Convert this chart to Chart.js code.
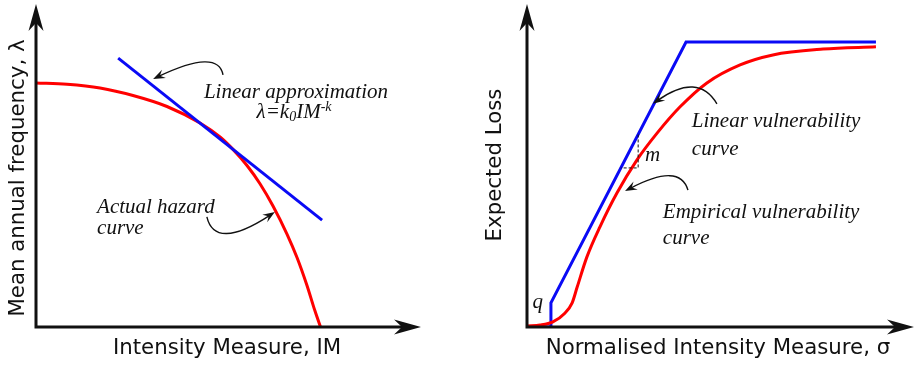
<!DOCTYPE html>
<html>
<head>
<meta charset="utf-8">
<script src="https://cdn.jsdelivr.net/npm/chart.js@4/dist/chart.umd.min.js"></script>
<style>
  html, body { margin: 0; padding: 0; background: #fff; }
  #wrap { position: relative; width: 914px; height: 365px; }
  .panel { position: absolute; top: 0; width: 457px; height: 365px; }
</style>
</head>
<body>
<div id="wrap">
  <div class="panel" style="left:0"><canvas id="hazard"></canvas></div>
  <div class="panel" style="left:457px"><canvas id="vuln"></canvas></div>
</div>
<script>
// ---- Hazard panel: intensity measure vs. mean annual frequency ----
const hazardIM     = [0, 8.07, 16.67, 25.26, 34.11, 42.71, 47.92, 51.30, 54.95, 58.33, 61.72, 65.36, 67.97, 70.57, 72.66, 74.09];
const hazardLambda = [75.78, 75.37, 74.22, 71.89, 68.48, 63.35, 59.01, 55.16, 50.16, 44.50, 37.58, 28.88, 21.58, 12.89, 4.94, 0];
const tangentIM     = [21.4, 74.5];
const tangentLambda = [83.5, 33.2];

// ---- Vulnerability panel: normalised intensity vs. expected loss ----
const empiricalSigma = [0, 3.4, 6.7, 9.8, 11.7, 13.0, 15.5, 18.9, 23.3, 28.5, 33.7, 39.6, 46.6, 55.2, 63.7, 76.7, 90.4];
const empiricalLoss  = [0.3, 0.6, 1.6, 4.3, 7.5, 12.4, 21.7, 31.1, 41.6, 51.9, 60.2, 68.3, 75.8, 81.4, 84.5, 86.3, 87.0];
const linearSigma = [0, 6.2, 6.2, 41.2, 90.4];
const linearLoss  = [0, 0, 7.5, 88.5, 88.5];

const RED = '#ff0000';
const BLUE = '#0a0af5';
const SANS = '"DejaVu Sans", Verdana, sans-serif';
const SERIF = '"Liberation Serif", "Times New Roman", serif';
const NOTE_SIZE = 21;
const TITLE_SIZE = 21.3;

const pts = (xs, ys) => xs.map((x, i) => ({ x, y: ys[i] }));

// Arrow-tipped axes, axis titles, italic notes and curved pointer arrows
function drawHead(ctx, tx, ty, ux, uy, len, half, notch) {
  const px = -uy, py = ux;
  ctx.beginPath();
  ctx.moveTo(tx, ty);
  ctx.lineTo(tx - ux * len + px * half, ty - uy * len + py * half);
  ctx.lineTo(tx - ux * notch, ty - uy * notch);
  ctx.lineTo(tx - ux * len - px * half, ty - uy * len - py * half);
  ctx.closePath();
  ctx.fill();
}

const sketchPlugin = {
  id: 'sketch',
  afterDraw(chart, args, o) {
    const { ctx, chartArea: a, scales: { x, y } } = chart;
    const X = v => x.getPixelForValue(v), Y = v => y.getPixelForValue(v);
    ctx.save();
    ctx.fillStyle = '#111';
    ctx.strokeStyle = '#111';
    // axes
    ctx.lineWidth = 3;
    ctx.beginPath();
    ctx.moveTo(a.left, a.bottom + 1.5);
    ctx.lineTo(a.left, a.top + 18);
    ctx.moveTo(a.left - 1.5, a.bottom);
    ctx.lineTo(a.right - 18, a.bottom);
    ctx.stroke();
    drawHead(ctx, a.left, a.top - 1, 0, -1, 27, 7.5, 19);
    drawHead(ctx, a.right + 1, a.bottom, 1, 0, 27, 7.5, 19);
    // axis titles
    ctx.font = TITLE_SIZE + 'px ' + SANS;
    ctx.textAlign = 'center';
    ctx.textBaseline = 'middle';
    ctx.fillText(o.xTitle, o.xTitlePos[0], o.xTitlePos[1]);
    ctx.save();
    ctx.translate(o.yTitlePos[0], o.yTitlePos[1]);
    ctx.rotate(-Math.PI / 2);
    ctx.fillText(o.yTitle, 0, 0);
    ctx.restore();
    // dashed slope marker
    if (o.slope) {
      const s = o.slope;
      ctx.lineWidth = 1;
      ctx.setLineDash([3, 2]);
      ctx.beginPath();
      ctx.moveTo(X(s.x1), Y(s.yTop));
      ctx.lineTo(X(s.x1), Y(s.yBase));
      ctx.lineTo(X(s.x0), Y(s.yBase));
      ctx.stroke();
      ctx.setLineDash([]);
    }
    // curved pointer arrows
    ctx.lineWidth = 1.4;
    for (const ar of o.arrows) {
      const [sx, sy] = [X(ar.from[0]), Y(ar.from[1])];
      const [cx, cy] = [X(ar.ctrl[0]), Y(ar.ctrl[1])];
      const [ex, ey] = [X(ar.to[0]), Y(ar.to[1])];
      let ux = ex - cx, uy = ey - cy;
      const n = Math.hypot(ux, uy); ux /= n; uy /= n;
      ctx.beginPath();
      ctx.moveTo(sx, sy);
      ctx.quadraticCurveTo(cx, cy, ex - ux * 6, ey - uy * 6);
      ctx.stroke();
      drawHead(ctx, ex, ey, ux, uy, 12, 4.5, 7.5);
    }
    // italic notes
    const noteFont = sub => 'italic ' + (sub ? 14 : NOTE_SIZE) + 'px ' + SERIF;
    for (const t of o.notes) {
      ctx.font = noteFont(false);
      ctx.textAlign = t.align || 'left';
      ctx.textBaseline = 'middle';
      if (t.parts) {
        // text with sub/superscript runs
        let w = 0;
        for (const p of t.parts) {
          ctx.font = noteFont(p.s);
          w += ctx.measureText(p.t).width;
        }
        let cx0 = X(t.at[0]) - w / 2;
        const cy0 = Y(t.at[1]);
        ctx.textAlign = 'left';
        for (const p of t.parts) {
          ctx.font = noteFont(p.s);
          ctx.fillText(p.t, cx0, cy0 + (p.s || 0));
          cx0 += ctx.measureText(p.t).width;
        }
      } else {
        ctx.fillText(t.text, X(t.at[0]), Y(t.at[1]));
      }
    }
    ctx.restore();
  }
};

function lineDataset(data, color, smooth) {
  return {
    data, borderColor: color, borderWidth: 3, pointRadius: 0, fill: false,
    cubicInterpolationMode: smooth ? 'monotone' : 'default', tension: 0,
    borderJoinStyle: 'miter', borderCapStyle: 'butt'
  };
}

function baseOptions(padding, sketch) {
  return {
    responsive: false, animation: false, events: [],
    layout: { padding },
    scales: {
      x: { type: 'linear', min: 0, max: 100, display: false },
      y: { type: 'linear', min: 0, max: 100, display: false }
    },
    plugins: { legend: { display: false }, tooltip: { enabled: false }, sketch }
  };
}

function makeCanvas(id) {
  const c = document.getElementById(id);
  c.width = 457; c.height = 365;
  c.style.width = '457px'; c.style.height = '365px';
  return c;
}

new Chart(makeCanvas('hazard'), {
  type: 'line',
  data: {
    datasets: [
      lineDataset(pts(tangentIM, tangentLambda), BLUE, false),
      lineDataset(pts(hazardIM, hazardLambda), RED, true)
    ]
  },
  options: baseOptions({ left: 36, right: 37, top: 5, bottom: 38 }, {
    xTitle: 'Intensity Measure, IM', xTitlePos: [227, 348],
    yTitle: 'Mean annual frequency, λ', yTitlePos: [18, 178],
    arrows: [
      { from: [48.7, 78.3], ctrl: [47.4, 86.6], to: [30.5, 77.0] },
      { from: [44.5, 34.2], ctrl: [46.6, 23.6], to: [62.2, 35.7] }
    ],
    notes: [
      { text: 'Linear approximation', at: [67.7, 72.7], align: 'center' },
      { parts: [{ t: 'λ=k' }, { t: '0', s: 4 }, { t: 'IM' }, { t: '-k', s: -6 }], at: [67.2, 66.5] },
      { text: 'Actual hazard', at: [15.9, 37.0] },
      { text: 'curve', at: [15.9, 30.7] }
    ]
  }),
  plugins: [sketchPlugin]
});

new Chart(makeCanvas('vuln'), {
  type: 'line',
  data: {
    datasets: [
      lineDataset(pts(empiricalSigma, empiricalLoss), RED, true),
      lineDataset(pts(linearSigma, linearLoss), BLUE, false)
    ]
  },
  options: baseOptions({ left: 70, right: 1, top: 5, bottom: 38 }, {
    xTitle: 'Normalised Intensity Measure, σ', xTitlePos: [261, 348],
    yTitle: 'Expected Loss', yTitlePos: [38, 165],
    slope: { x0: 24.3, x1: 28.8, yTop: 59.8, yBase: 49.4 },
    arrows: [
      { from: [49.2, 69.3], ctrl: [44.3, 79.2], to: [32.6, 69.3] },
      { from: [41.7, 42.5], ctrl: [39.6, 51.2], to: [25.4, 42.2] }
    ],
    notes: [
      { text: 'm', at: [30.6, 53.4] },
      { text: 'q', at: [2.8, 7.5], align: 'center' },
      { text: 'Linear vulnerability', at: [42.7, 63.7] },
      { text: 'curve', at: [42.7, 55.0] },
      { text: 'Empirical vulnerability', at: [35.2, 35.7] },
      { text: 'curve', at: [35.2, 27.6] }
    ]
  }),
  plugins: [sketchPlugin]
});
</script>
</body>
</html>
